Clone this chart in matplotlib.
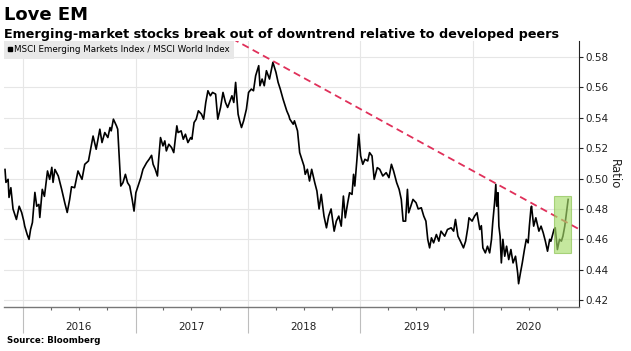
import matplotlib
matplotlib.use("Agg")
import matplotlib.pyplot as plt
import matplotlib.dates as mdates
from matplotlib.lines import Line2D
from matplotlib.patches import Rectangle
import numpy as np
import pandas as pd

# MSCI EM / MSCI World ratio
dates = [
    "2015-11-04", "2015-11-07", "2015-11-14", "2015-11-17", "2015-11-23", "2015-11-30",
    "2015-12-11", "2015-12-20", "2015-12-28", "2016-01-04", "2016-01-07", "2016-01-15",
    "2016-01-21", "2016-01-26", "2016-02-01", "2016-02-09", "2016-02-15", "2016-02-22",
    "2016-02-25", "2016-03-04", "2016-03-11", "2016-03-21", "2016-03-28", "2016-04-04",
    "2016-04-08", "2016-04-14", "2016-04-25", "2016-05-06", "2016-05-16", "2016-05-24",
    "2016-06-01", "2016-06-07", "2016-06-17", "2016-06-28", "2016-07-11", "2016-07-20",
    "2016-08-01", "2016-08-08", "2016-08-16", "2016-08-26", "2016-09-07", "2016-09-14",
    "2016-09-23", "2016-10-03", "2016-10-10", "2016-10-14", "2016-10-21", "2016-10-31",
    "2016-11-04", "2016-11-14", "2016-11-21", "2016-11-29", "2016-12-06", "2016-12-13",
    "2016-12-21", "2016-12-27", "2017-01-02", "2017-01-09", "2017-01-18", "2017-01-25",
    "2017-02-06", "2017-02-14", "2017-02-22", "2017-02-27", "2017-03-06", "2017-03-13",
    "2017-03-17", "2017-03-23", "2017-03-31", "2017-04-06", "2017-04-11", "2017-04-19",
    "2017-04-28", "2017-05-05", "2017-05-15", "2017-05-19", "2017-05-29", "2017-06-05",
    "2017-06-12", "2017-06-20", "2017-06-29", "2017-07-03", "2017-07-10", "2017-07-17",
    "2017-07-24", "2017-08-03", "2017-08-10", "2017-08-17", "2017-08-24", "2017-09-01",
    "2017-09-08", "2017-09-18", "2017-09-25", "2017-10-04", "2017-10-12", "2017-10-20",
    "2017-10-27", "2017-11-06", "2017-11-10", "2017-11-16", "2017-11-22", "2017-11-30",
    "2017-12-05", "2017-12-11", "2017-12-18", "2017-12-27", "2018-01-03", "2018-01-12",
    "2018-01-19", "2018-01-26", "2018-02-05", "2018-02-09", "2018-02-16", "2018-02-23",
    "2018-03-02", "2018-03-12", "2018-03-23", "2018-04-02", "2018-04-09", "2018-04-16",
    "2018-04-25", "2018-05-07", "2018-05-14", "2018-05-17", "2018-05-28", "2018-06-01",
    "2018-06-11", "2018-06-18", "2018-06-25", "2018-07-02", "2018-07-06", "2018-07-13",
    "2018-07-20", "2018-07-27", "2018-08-06", "2018-08-13", "2018-08-20", "2018-08-27",
    "2018-09-05", "2018-09-13", "2018-09-20", "2018-09-28", "2018-10-08", "2018-10-15",
    "2018-10-23", "2018-10-31", "2018-11-07", "2018-11-13", "2018-11-21", "2018-11-27",
    "2018-12-05", "2018-12-10", "2018-12-14", "2018-12-21", "2018-12-27", "2019-01-02",
    "2019-01-09", "2019-01-16", "2019-01-25", "2019-01-31", "2019-02-08", "2019-02-15",
    "2019-02-25", "2019-03-05", "2019-03-15", "2019-03-26", "2019-04-04", "2019-04-12",
    "2019-04-19", "2019-04-29", "2019-05-07", "2019-05-14", "2019-05-20", "2019-05-28",
    "2019-06-03", "2019-06-07", "2019-06-14", "2019-06-21", "2019-07-01", "2019-07-08",
    "2019-07-18", "2019-07-26", "2019-08-02", "2019-08-08", "2019-08-14", "2019-08-20",
    "2019-08-27", "2019-09-05", "2019-09-13", "2019-09-20", "2019-10-02", "2019-10-11",
    "2019-10-23", "2019-10-31", "2019-11-06", "2019-11-14", "2019-11-22", "2019-12-02",
    "2019-12-09", "2019-12-16", "2019-12-20", "2019-12-30", "2020-01-07", "2020-01-15",
    "2020-01-24", "2020-01-29", "2020-02-03", "2020-02-11", "2020-02-18", "2020-02-25",
    "2020-03-02", "2020-03-06", "2020-03-12", "2020-03-16", "2020-03-19", "2020-03-23",
    "2020-03-26", "2020-03-30", "2020-04-03", "2020-04-08", "2020-04-14", "2020-04-20",
    "2020-04-27", "2020-05-04", "2020-05-11", "2020-05-19", "2020-05-26", "2020-05-29",
    "2020-06-04", "2020-06-10", "2020-06-17", "2020-06-23", "2020-06-29", "2020-07-03",
    "2020-07-08", "2020-07-10", "2020-07-17", "2020-07-24", "2020-08-03", "2020-08-10",
    "2020-08-17", "2020-08-24", "2020-08-31", "2020-09-07", "2020-09-11", "2020-09-21",
    "2020-09-25", "2020-10-02", "2020-10-09", "2020-10-15", "2020-10-20", "2020-10-26",
    "2020-11-02", "2020-11-06",
]
ratio = [
    0.506, 0.4975, 0.4995, 0.4876, 0.494, 0.480,
    0.4731, 0.4818, 0.4777, 0.472, 0.4687, 0.4632,
    0.460, 0.4665, 0.4711, 0.4909, 0.4818, 0.483,
    0.4744, 0.4929, 0.4883, 0.505, 0.4995, 0.5074,
    0.4975, 0.506, 0.5017, 0.4929, 0.4841, 0.4777,
    0.4863, 0.4946, 0.494, 0.505, 0.4995, 0.5094,
    0.5116, 0.5193, 0.528, 0.5193, 0.5325, 0.5237,
    0.5303, 0.527, 0.5336, 0.5314, 0.5391, 0.5347,
    0.5325, 0.4951, 0.4973, 0.5028, 0.4973, 0.4951,
    0.4863, 0.4786, 0.4907, 0.4951, 0.5006, 0.5061,
    0.5105, 0.5127, 0.5153, 0.5094, 0.5061, 0.5017,
    0.5127, 0.527, 0.5215, 0.5248, 0.5182, 0.5226,
    0.5204, 0.5171, 0.5347, 0.5303, 0.5314, 0.5259,
    0.5292, 0.5237, 0.527, 0.5259, 0.5369, 0.5391,
    0.5446, 0.5424, 0.5391, 0.5501, 0.5578, 0.5545,
    0.5567, 0.5556, 0.5391, 0.5468, 0.5567, 0.5501,
    0.5468, 0.5523, 0.5545, 0.5501, 0.5633, 0.5424,
    0.538, 0.5336, 0.538, 0.5457, 0.5567, 0.5589,
    0.5578, 0.5677, 0.5743, 0.5611, 0.5655, 0.5611,
    0.571, 0.5655, 0.5765, 0.5699, 0.5633, 0.5589,
    0.5523, 0.5446, 0.5413, 0.5391, 0.5358, 0.538,
    0.5314, 0.5171, 0.5127, 0.5083, 0.5028, 0.5061,
    0.4984, 0.5061, 0.4973, 0.4918, 0.480, 0.4896,
    0.4753, 0.4676, 0.4753, 0.480, 0.4654, 0.472,
    0.4753, 0.4687, 0.4885, 0.4742, 0.4841, 0.4907,
    0.4896, 0.5028, 0.4951, 0.5127, 0.5292, 0.5149,
    0.5094, 0.5127, 0.5116, 0.5171, 0.5149, 0.4995,
    0.5072, 0.5061, 0.5017, 0.5039, 0.5006, 0.5094,
    0.505, 0.4973, 0.4929, 0.4863, 0.472, 0.472,
    0.4929, 0.4775, 0.4818, 0.4863, 0.4841, 0.480,
    0.4808, 0.4753, 0.472, 0.460, 0.4544, 0.461,
    0.4577, 0.4632, 0.4588, 0.4654, 0.4621, 0.4665,
    0.4676, 0.4654, 0.4731, 0.4621, 0.4588, 0.4544,
    0.4588, 0.4676, 0.4742, 0.472, 0.4753, 0.4775,
    0.4665, 0.469, 0.4544, 0.4511, 0.4555, 0.4511,
    0.460, 0.4709, 0.4841, 0.4962, 0.4818, 0.4907,
    0.4687, 0.4621, 0.4445, 0.460, 0.4489, 0.4555,
    0.4467, 0.4533, 0.4445, 0.4489, 0.4379, 0.4308,
    0.4379, 0.4445, 0.4533, 0.460, 0.4577, 0.4687,
    0.480, 0.4818, 0.4687, 0.4742, 0.4654, 0.4687,
    0.4643, 0.4588, 0.4522, 0.460, 0.4588, 0.4665,
    0.4676, 0.4533, 0.460, 0.4588, 0.4621, 0.4687,
    0.480, 0.4863,
]

# downtrend line through the 2018 and 2020 highs
trend_dates = ["2018-03-23", "2020-03-16"]
trend_values = [0.5774, 0.4968]

# breakout box
box_dates = ["2020-09-21", "2020-11-14"]
box_values = [0.4513, 0.4883]

years = [2016, 2017, 2018, 2019, 2020]
yticks = [0.42, 0.44, 0.46, 0.48, 0.50, 0.52, 0.54, 0.56, 0.58]

x = pd.to_datetime(dates)
xmin, xmax = pd.Timestamp("2015-10-31"), pd.Timestamp("2020-12-10")

fig = plt.figure(figsize=(6.31, 3.51), dpi=100)
ax = fig.add_axes([0.006, 0.125, 0.911, 0.758])

ax.plot(x, ratio, color="black", lw=1.2, zorder=3)

# trend line extended across the whole axis
tn = mdates.date2num(pd.to_datetime(trend_dates))
slope = (trend_values[1] - trend_values[0]) / (tn[1] - tn[0])
ends = mdates.date2num([xmin, xmax])
ax.plot(mdates.num2date(ends), trend_values[0] + slope * (ends - tn[0]),
        color="#e0305a", lw=1.3, ls=(0, (4, 2.5)), zorder=4)

bx = mdates.date2num(pd.to_datetime(box_dates))
ax.add_patch(Rectangle((bx[0], box_values[0]), bx[1] - bx[0], box_values[1] - box_values[0],
                       facecolor="#a6dc6a", edgecolor="#86c04a", alpha=0.65, lw=0.8, zorder=5))

ax.set_xlim(xmin, xmax)
ax.set_ylim(0.4154, 0.5905)

ax.yaxis.tick_right()
ax.yaxis.set_label_position("right")
ax.set_yticks(yticks)
ax.set_yticklabels([f"{v:.2f}" for v in yticks])
ax.tick_params(axis="y", length=3, width=0.8, labelsize=7.5, pad=1.5, colors="#222222")
ax.set_ylabel("Ratio", rotation=270, fontsize=8.5, labelpad=9, color="#222222")

ax.xaxis.set_major_locator(mdates.YearLocator())
ax.xaxis.set_minor_locator(mdates.MonthLocator(bymonth=[4, 7, 10]))
ax.xaxis.set_major_formatter(plt.NullFormatter())
ax.tick_params(axis="x", which="major", length=19, width=0.8, color="#bdbdbd")
ax.tick_params(axis="x", which="minor", length=2.5, width=0.8, color="#666666")
for yr in years:
    ax.text(pd.Timestamp(f"{yr}-07-01"), -0.075, str(yr), transform=ax.get_xaxis_transform(),
            ha="center", va="center", fontsize=7.5, color="#222222")

ax.grid(axis="y", color="#e6e6e6", lw=0.8)
ax.grid(axis="x", which="major", color="#e6e6e6", lw=0.8)
for s in ["left", "top"]:
    ax.spines[s].set_visible(False)
ax.spines["right"].set_color("#222222")
ax.spines["right"].set_linewidth(0.8)
ax.spines["bottom"].set_color("#777777")
ax.spines["bottom"].set_linewidth(1.0)

proxy = Line2D([], [], marker="s", color="black", ls="none", markersize=3.5)
leg = ax.legend([proxy], ["MSCI Emerging Markets Index / MSCI World Index"],
                loc="upper left", bbox_to_anchor=(0, 1), borderaxespad=0,
                frameon=True, fancybox=False, facecolor="#e8e8e8", edgecolor="none",
                framealpha=1, handlelength=0.5, handletextpad=0.2, borderpad=0.5,
                prop={"size": 6.3})
leg.set_zorder(6)

fig.text(0.006, 0.942, "Love EM", fontsize=13, fontweight="bold", va="baseline")
fig.text(0.006, 0.893, "Emerging-market stocks break out of downtrend relative to developed peers",
         fontsize=9.2, fontweight="bold", va="baseline")
fig.text(0.011, 0.029, "Source: Bloomberg", fontsize=6.2, fontweight="bold", va="center")

fig.savefig("out.png", dpi=100)
